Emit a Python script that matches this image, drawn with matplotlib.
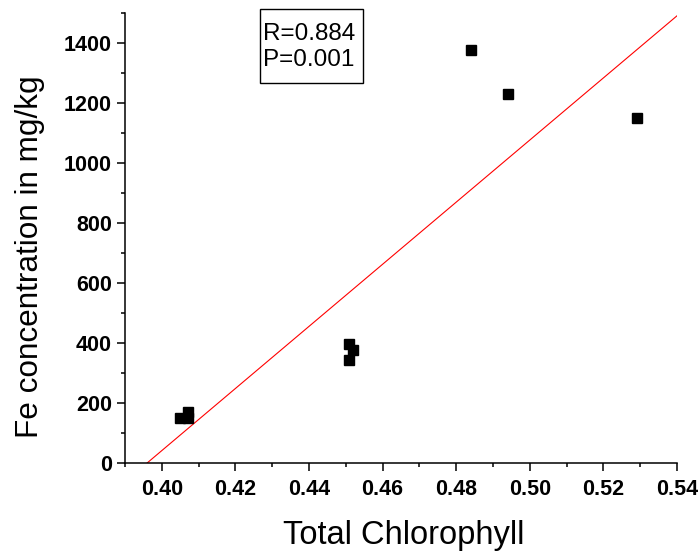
import numpy as np
import matplotlib.pyplot as plt
from matplotlib.patches import Rectangle
from matplotlib.ticker import MultipleLocator, FormatStrFormatter
plt.switch_backend('Agg')

# values
chlorophyll = [0.405, 0.407, 0.407, 0.451, 0.452, 0.451, 0.484, 0.494, 0.529]
fe_conc = [150, 150, 172, 398, 378, 344, 1378, 1230, 1150]
stats_lines = ['R=0.884', 'P=0.001']

plt.rcParams['font.family'] = ['Liberation Sans', 'DejaVu Sans']

fig = plt.figure(figsize=(7, 5.55), dpi=100)
ax = fig.add_axes([125 / 700, 1 - 463.3 / 555, 552 / 700, 450 / 555])

ax.plot(chlorophyll, fe_conc, 's', color='black', markersize=6.5, zorder=3)

# linear fit through the points
slope, intercept = np.polyfit(chlorophyll, fe_conc, 1)
fit_x = np.array([0.39, 0.54])
ax.plot(fit_x, slope * fit_x + intercept, color='red', lw=0.8)

ax.set_xlim(0.39, 0.54)
ax.set_ylim(0, 1500)
ax.xaxis.set_major_locator(MultipleLocator(0.02))
ax.xaxis.set_minor_locator(MultipleLocator(0.01))
ax.xaxis.set_major_formatter(FormatStrFormatter('%.2f'))
ax.yaxis.set_major_locator(MultipleLocator(200))
ax.yaxis.set_minor_locator(MultipleLocator(100))

for side in ['top', 'right']:
    ax.spines[side].set_visible(False)
for side in ['left', 'bottom']:
    ax.spines[side].set_linewidth(1.1)
ax.tick_params(which='major', direction='out', length=6, width=1.1, labelsize=15.5)
ax.tick_params(axis='x', which='major', pad=5.5)
ax.tick_params(which='minor', direction='out', length=3, width=1.1)
for lab in ax.get_xticklabels() + ax.get_yticklabels():
    lab.set_fontweight('bold')

ax.set_xlabel('Total Chlorophyll', fontsize=23.5)
ax.set_ylabel('Fe concentration in mg/kg', fontsize=22.7)
ax.xaxis.set_label_coords(0.505, -0.126)
ax.yaxis.set_label_coords(-0.145, 0.46)

# stats box
ax.add_patch(Rectangle((0.2446, 0.845), 0.1866, 0.1646, transform=ax.transAxes,
                       facecolor='white', edgecolor='black', linewidth=1, clip_on=False, zorder=4))
for i, line in enumerate(stats_lines):
    ax.text(0.25, 0.9407 - i * 0.0578, line, transform=ax.transAxes, fontsize=17.5,
            va='baseline', ha='left', zorder=5)

fig.savefig('out.png', dpi=100)
